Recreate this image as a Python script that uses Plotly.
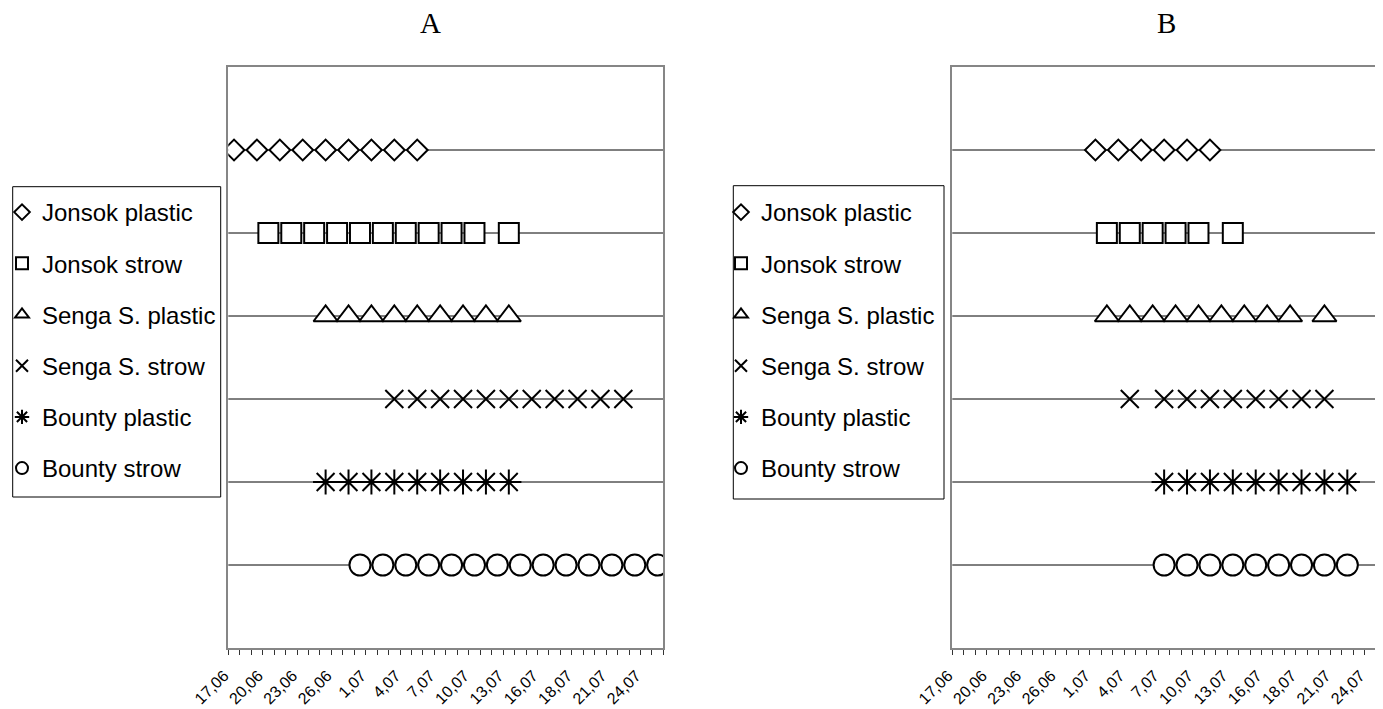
import plotly.graph_objects as go

# x axis: 38 sampling occasions (observation index), labelled every 3rd
tick_idx = [0, 3, 6, 9, 12, 15, 18, 21, 24, 27, 30, 33, 36]
tick_labels = ["17,06", "20,06", "23,06", "26,06", "1,07", "4,07", "7,07",
               "10,07", "13,07", "16,07", "18,07", "21,07", "24,07"]

series_names = ["Jonsok plastic", "Jonsok strow", "Senga S. plastic",
                "Senga S. strow", "Bounty plastic", "Bounty strow"]
series_rows = [6, 5, 4, 3, 2, 1]

# Panel A: observation indices where each variety was recorded
a_jonsok_plastic = [0, 2, 4, 6, 8, 10, 12, 14, 16]
a_jonsok_strow = [3, 5, 7, 9, 11, 13, 15, 17, 19, 21, 24]
a_senga_plastic = [8, 10, 12, 14, 16, 18, 20, 22, 24]
a_senga_strow = [14, 16, 18, 20, 22, 24, 26, 28, 30, 32, 34]
a_bounty_plastic = [8, 10, 12, 14, 16, 18, 20, 22, 24]
a_bounty_strow = [11, 13, 15, 17, 19, 21, 23, 25, 27, 29, 31, 33, 35, 37]

# Panel B
b_jonsok_plastic = [12, 14, 16, 18, 20, 22]
b_jonsok_strow = [13, 15, 17, 19, 21, 24]
b_senga_plastic = [13, 15, 17, 19, 21, 23, 25, 27, 29, 32]
b_senga_strow = [15, 18, 20, 22, 24, 26, 28, 30, 32]
b_bounty_plastic = [18, 20, 22, 24, 26, 28, 30, 32, 34]
b_bounty_strow = [18, 20, 22, 24, 26, 28, 30, 32, 34]

panel_a = [a_jonsok_plastic, a_jonsok_strow, a_senga_plastic,
           a_senga_strow, a_bounty_plastic, a_bounty_strow]
panel_b = [b_jonsok_plastic, b_jonsok_strow, b_senga_plastic,
           b_senga_strow, b_bounty_plastic, b_bounty_strow]

symbols = ["diamond", "square", "triangle-up", "x-thin-open", "asterisk-open", "circle"]
sizes = [16, 20, 21, 18, 21, 21]
fills = ["white", "white", "white", "black", "black", "white"]

W, H = 1383, 709
OFF = 8  # page offset of the figure inside the browser (body margin)


def fx(page_x):
    return page_x - OFF


def fy(page_y):
    return page_y - OFF


A_L, A_R = fx(228.3), fx(663.4)
B_L = fx(952.3)
B_R = B_L + (A_R - A_L)
TOP, BOT = fy(67), fy(648)
T, B = TOP, H - BOT
plot_h = BOT - TOP


def py(page_y):
    # page pixel row -> paper y
    return (BOT - fy(page_y)) / plot_h


def px(page_x):
    return fx(page_x) / W


fig = go.Figure()

for panel, xa, ya, leg in [(panel_a, "x", "y", "legend"), (panel_b, "x2", "y2", "legend2")]:
    for i, vals in enumerate(panel):
        fig.add_trace(go.Scatter(
            x=vals, y=[series_rows[i]] * len(vals),
            mode="markers", name=series_names[i],
            xaxis=xa, yaxis=ya, legend=leg,
            legendgroup=leg + str(i),
            marker=dict(symbol=symbols[i], size=sizes[i], color=fills[i],
                        line=dict(color="black", width=2)),
            hoverinfo="skip",
        ))
    for r in series_rows:
        fig.add_shape(type="line", xref=xa + " domain", yref=ya,
                      x0=0, x1=1, y0=r, y1=r, layer="below",
                      line=dict(color="black", width=1))

# legend boxes (page coordinates)
for (x0, x1, y0, y1) in [(12.7, 220.7, 186.7, 497), (733.3, 944, 185.7, 499)]:
    fig.add_shape(type="rect", xref="paper", yref="paper",
                  x0=px(x0), x1=px(x1), y0=py(y1), y1=py(y0),
                  line=dict(color="black", width=1), fillcolor="white", layer="below")

frame = "#868686"

common_x = dict(
    range=[-0.5, 37.5],
    tickmode="array", tickvals=tick_idx, ticktext=tick_labels, tickangle=-45,
    ticks="", showgrid=False, zeroline=False, showline=True, linecolor=frame,
    linewidth=2, tickfont=dict(family="Liberation Sans, Arial", size=16, color="black"),
    ticklabelstandoff=10, ticklabelshift=-10,
    minor=dict(tick0=-0.5, dtick=1, ticks="outside", ticklen=5, tickcolor="#333333",
               tickwidth=1, showgrid=False),
)
common_y = dict(range=[0, 7], showticklabels=False, ticks="", showgrid=False,
                zeroline=False, showline=True, linecolor=frame, linewidth=2)

leg_common = dict(xanchor="left", yanchor="top", bgcolor="rgba(0,0,0,0)",
                  borderwidth=0,
                  font=dict(family="Liberation Sans, Arial", size=24, color="black"),
                  itemsizing="constant", tracegroupgap=17, itemwidth=30)

fig.update_layout(
    width=W, height=H,
    margin=dict(l=0, r=0, t=T, b=B, pad=0, autoexpand=False),
    paper_bgcolor="white", plot_bgcolor="white",
    xaxis=dict(domain=[A_L / W, A_R / W], mirror=True, **common_x),
    yaxis=dict(domain=[0, 1], mirror=True, **common_y),
    xaxis2=dict(domain=[B_L / W, B_R / W], mirror=True, anchor="y2", **common_x),
    yaxis2=dict(domain=[0, 1], anchor="x2", mirror=False, **common_y),
    legend=dict(x=px(2.0), y=py(190), **leg_common),
    legend2=dict(x=px(721.0), y=py(190), **leg_common),
    showlegend=True,
    annotations=[
        dict(text="A", x=px(430.5), y=py(23), xref="paper", yref="paper",
             showarrow=False, xanchor="center", yanchor="middle",
             font=dict(family="Liberation Serif, Times New Roman", size=29, color="black")),
        dict(text="B", x=px(1166.0), y=py(23), xref="paper", yref="paper",
             showarrow=False, xanchor="center", yanchor="middle",
             font=dict(family="Liberation Serif, Times New Roman", size=29, color="black")),
    ],
)

fig.write_html("out.html")
